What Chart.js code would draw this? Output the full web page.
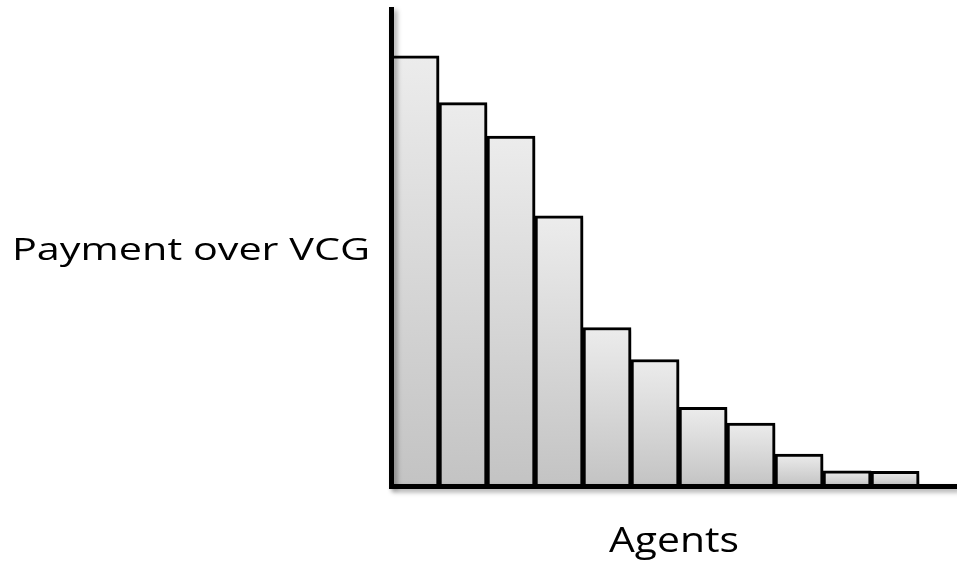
<!DOCTYPE html>
<html>
<head>
<meta charset="utf-8">
<script src="https://cdn.jsdelivr.net/npm/chart.js@4/dist/chart.umd.min.js"></script>
<style>
  html, body { margin: 0; padding: 0; background: #fff; }
  #wrap { width: 957px; height: 567px; }
</style>
</head>
<body>
<div id="wrap"><canvas id="chart-canvas" width="957" height="567"></canvas></div>
<script>
// chart data (y in % of axis height)
const agents = ['1', '2', '3', '4', '5', '6', '7', '8', '9', '10', '11'];
const payment_over_vcg = [90.2, 80.4, 73.4, 56.7, 33.3, 26.6, 16.6, 13.3, 6.8, 3.3, 3.2];
const y_title = 'Payment over VCG';
const x_title = 'Agents';

// per bar vertical gradient, light at top, darker at bottom
function bar_fill(context) {
    let chart = context.chart;
    let y_scale = chart.scales.y;
    if (!y_scale || context.dataIndex === undefined) return '#dcdcdc';
    let top = y_scale.getPixelForValue(payment_over_vcg[context.dataIndex]);
    let bottom = y_scale.getPixelForValue(0);
    if (!isFinite(top) || !isFinite(bottom) || top === bottom) return '#dcdcdc';
    let grad = chart.ctx.createLinearGradient(0, top, 0, bottom);
    grad.addColorStop(0, '#ececec');
    grad.addColorStop(1, '#c3c3c3');
    return grad;
}

// soft drop shadow for bars and axes (axis lines are drawn on top, border z: 1)
const shadow_plugin = {
    id: 'shadow_plugin',
    beforeDraw(chart) {
        let ctx = chart.ctx;
        ctx.save();
        ctx.shadowColor = 'rgba(0, 0, 0, 0.35)';
        ctx.shadowBlur = 5;
        ctx.shadowOffsetX = 3;
        ctx.shadowOffsetY = 3;
    },
    afterDraw(chart) {
        chart.ctx.restore();
    }
};

// the two axis titles are horizontal, stretched wide like the original
function draw_wide_text(ctx, text, x, y, width, align) {
    ctx.save();
    let measured = ctx.measureText(text).width;
    let sx = width / measured;
    ctx.translate(x, y);
    ctx.scale(sx, 1);
    ctx.textAlign = align;
    ctx.fillText(text, 0, 0);
    ctx.restore();
}

const titles_plugin = {
    id: 'titles_plugin',
    afterDraw(chart) {
        let ctx = chart.ctx;
        let area = chart.chartArea;
        ctx.save();
        ctx.shadowColor = 'transparent';
        ctx.fillStyle = '#000';
        ctx.textBaseline = 'alphabetic';
        ctx.font = '31px "Open Sans"';
        draw_wide_text(ctx, y_title, 12, 260, 358, 'left');
        ctx.font = '35px "Open Sans"';
        draw_wide_text(ctx, x_title, (area.left + area.right) / 2, 552, 130, 'center');
        ctx.restore();
    }
};

let chart1 = new Chart(document.getElementById('chart-canvas'), {
    type: 'bar',
    data: {
        labels: agents,
        datasets: [{
            data: agents.map((a, i) => ({ x: i + 0.5, y: payment_over_vcg[i] })),
            backgroundColor: bar_fill,
            borderColor: '#000',
            borderWidth: 3,
            borderSkipped: 'bottom',
            barPercentage: 1,
            categoryPercentage: 1
        }]
    },
    options: {
        responsive: false,
        animation: false,
        layout: { padding: { top: 9, right: 0, left: 0, bottom: 0 } },
        plugins: {
            legend: { display: false },
            tooltip: { enabled: false }
        },
        scales: {
            x: {
                type: 'linear',
                min: 0,
                max: 11.79,
                offset: false,
                grid: { display: false, drawTicks: false, offset: false },
                border: { display: true, color: '#000', width: 5, z: 1 },
                ticks: { display: false },
                afterFit(scale) { scale.height = 80.5; }
            },
            y: {
                min: 0,
                max: 100,
                grid: { display: false, drawTicks: false },
                border: { display: true, color: '#000', width: 5, z: 1 },
                ticks: { display: false },
                afterFit(scale) { scale.width = 391; }
            }
        }
    },
    plugins: [shadow_plugin, titles_plugin]
});
</script>
</body>
</html>
